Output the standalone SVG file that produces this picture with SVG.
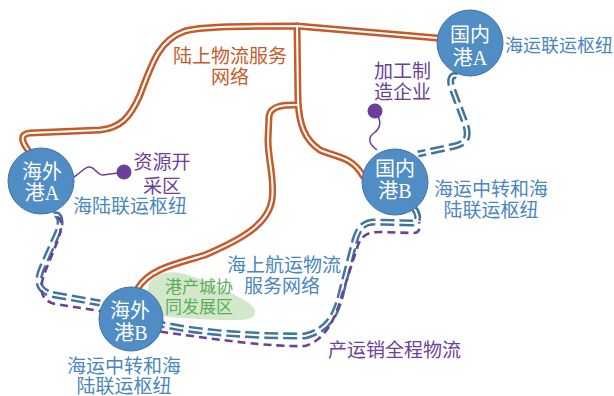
<svg xmlns="http://www.w3.org/2000/svg" width="614" height="396" viewBox="0 0 614 396">
<style>
text{font-family:"Liberation Serif","Noto Sans CJK SC",serif;}
.land{fill:none;stroke:#c65b2a;stroke-width:7;stroke-linecap:round;stroke-linejoin:round;}
.landc{fill:none;stroke:#fff;stroke-width:2;stroke-linecap:round;stroke-linejoin:round;}
.sea{fill:none;stroke:#41749f;stroke-width:7;stroke-dasharray:14 5;}
.seac{fill:none;stroke:#fff;stroke-width:2;}
.chain{fill:none;stroke:#6b3f9a;stroke-width:2.6;stroke-dasharray:8 5;}
.link{fill:none;stroke:#6b3f9a;stroke-width:1.5;}
.dot{fill:#6b3f9a;}
.port{fill:#4f8dc4;stroke:#3e73a3;stroke-width:1;}
.pt{fill:#fff;font-size:20px;text-anchor:middle;}
.bl{fill:#4a86bf;font-size:19px;}
.or{fill:#c65b2a;font-size:19px;}
.pu{fill:#6b3f9a;font-size:19px;}
.gr{fill:#5cad58;font-size:17px;}
</style>
<path d="M148,288 C150,276 166,269 185,274 C205,280 228,290 247,302 C260,310 258,320 238,320 C215,321 190,318 168,317 C152,315 146,302 148,288 Z" fill="#d3e8cb"/>
<g id="connectors">
  <path class="land" d="M28,150 C22,142 19,134 30,133 L100,130 C120,128 130,118 140,95 C153,60 160,40 185,31 C200,27 230,26 297,26 L437,38"/>
  <path class="land" d="M297,26 L298,100 C299,125 305,140 320,150 C335,157 352,156 363,176"/>
  <path class="land" d="M298,105 C288,105 271,104 269,116 L268,140 C268,160 275,180 272,200 C268,225 240,240 205,255 C180,263 150,268 138,288"/>
  <path class="landc" d="M28,150 C22,142 19,134 30,133 L100,130 C120,128 130,118 140,95 C153,60 160,40 185,31 C200,27 230,26 297,26 L437,38"/>
  <path class="landc" d="M297,26 L298,100 C299,125 305,140 320,150 C335,157 352,156 363,176"/>
  <path class="landc" d="M298,105 C288,105 271,104 269,116 L268,140 C268,160 275,180 272,200 C268,225 240,240 205,255 C180,263 150,268 138,288"/>
  <g id="sea-routes">
    <path class="sea" d="M457,76 C451,74 449,80 452,88 L464,120 C470,135 468,143 455,146 L418,154"/>
    <path class="seac" d="M457,76 C451,74 449,80 452,88 L464,120 C470,135 468,143 455,146 L418,154"/>
    <path class="sea" d="M413,207 C417,212 421,221 413,223 L375,222 C362,222 358,230 355,240 L342,290 C337,312 330,330 305,336 C250,336 200,333 160,324"/>
    <path class="seac" d="M413,207 C417,212 421,221 413,223 L375,222 C362,222 358,230 355,240 L342,290 C337,312 330,330 305,336 C250,336 200,333 160,324"/>
    <path class="sea" d="M54,215 C60,213 62,222 58,232 L42,268 C36,282 38,292 55,295 L100,303"/>
    <path class="seac" d="M54,215 C60,213 62,222 58,232 L42,268 C36,282 38,292 55,295 L100,303"/>
  </g>
  <path class="chain" d="M57,217 C63,219 62,228 58,240 L45,272 C40,285 38,300 55,304 L100,311 C120,318 140,327 163,332 C220,340 270,347 305,346 C325,340 335,320 342,295 L358,245 C362,235 368,232 380,232 L413,233 C420,233 420,228 419,222"/>
  <path class="link" d="M74,177 C82,172 85,166 90,167 C96,168 97,175 103,175 L118,173"/>
  <path class="link" d="M375,112 C382,120 381,128 374,133 C367,138 369,144 377,150"/>
</g>
<g id="resource"><circle class="dot" cx="124" cy="172" r="7.5"/><text class="pu" x="162" y="169" text-anchor="middle">资源开</text><text class="pu" x="162" y="193" text-anchor="middle">采区</text></g>
<g id="manufacturing"><circle class="dot" cx="375" cy="111" r="7.5"/><text class="pu" x="374" y="78">加工制</text><text class="pu" x="374" y="99">造企业</text></g>
<g id="port-overseas-a"><circle class="port" cx="41" cy="181" r="33"/><text class="pt" x="42" y="179">海外</text><text class="pt" x="42" y="200">港A</text><text class="bl" x="73" y="213">海陆联运枢纽</text></g>
<g id="port-domestic-a"><circle class="port" cx="470" cy="43" r="33"/><text class="pt" x="470" y="42">国内</text><text class="pt" x="470" y="65">港A</text><text class="bl" x="505" y="52" style="font-size:18px">海运联运枢纽</text></g>
<g id="port-domestic-b"><circle class="port" cx="395" cy="182" r="33"/><text class="pt" x="395" y="176">国内</text><text class="pt" x="395" y="198">港B</text><text class="bl" x="491" y="196" text-anchor="middle">海运中转和海</text><text class="bl" x="491" y="217" text-anchor="middle">陆联运枢纽</text></g>
<g id="port-overseas-b"><circle class="port" cx="131" cy="319" r="32"/><text class="pt" x="130" y="318">海外</text><text class="pt" x="131" y="340">港B</text><text class="bl" x="124" y="373" text-anchor="middle">海运中转和海</text><text class="bl" x="124" y="393" text-anchor="middle">陆联运枢纽</text></g>
<g id="land-label"><text class="or" x="230" y="63" text-anchor="middle">陆上物流服务</text><text class="or" x="230" y="84" text-anchor="middle">网络</text></g>
<g id="sea-label"><text class="bl" x="284" y="272" text-anchor="middle">海上航运物流</text><text class="bl" x="282" y="293" text-anchor="middle">服务网络</text></g>
<g id="zone"><text class="gr" x="165" y="293">港产城协</text><text class="gr" x="165" y="313">同发展区</text></g>
<g id="chain-label"><text class="pu" x="328" y="357">产运销全程物流</text></g>
</svg>
